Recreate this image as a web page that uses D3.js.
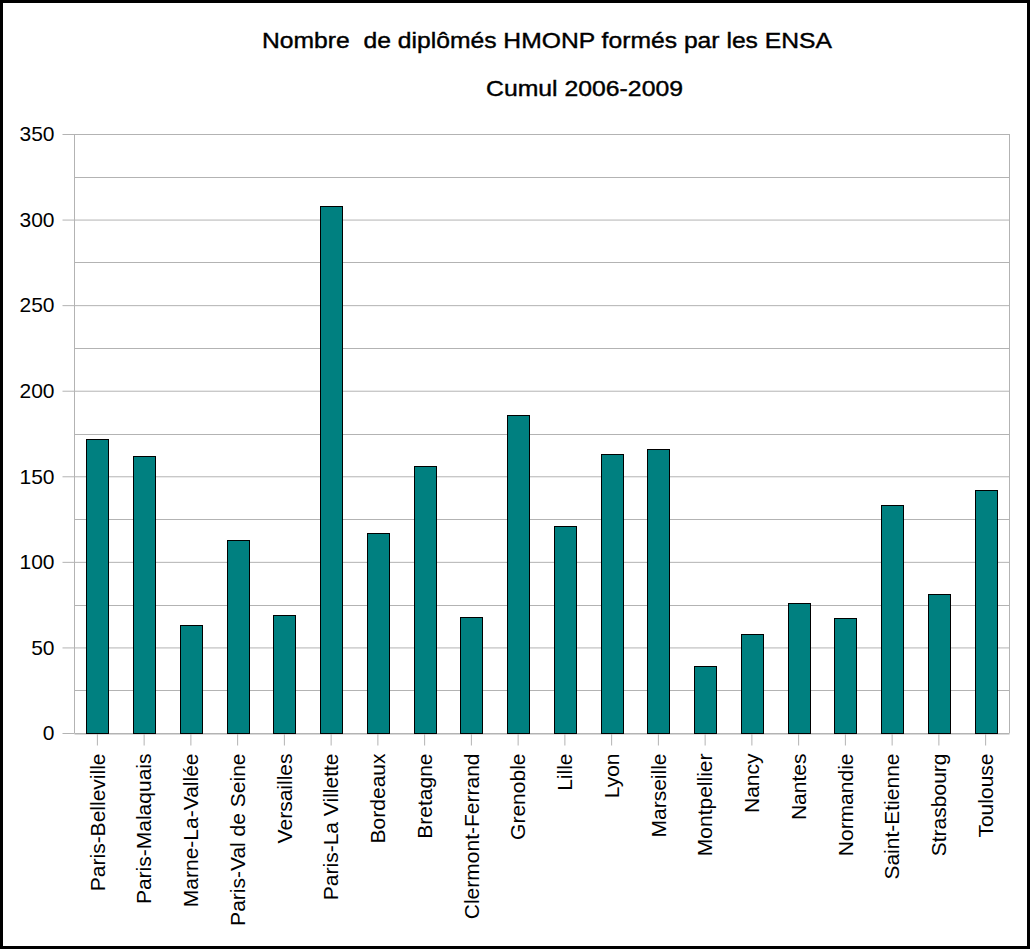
<!DOCTYPE html>
<html>
<head>
<meta charset="utf-8">
<script src="https://cdn.jsdelivr.net/npm/d3@7"></script>
<style>
  html, body { margin: 0; padding: 0; background: #fff; }
  svg { display: block; }
  text { font-family: "Liberation Sans", Arial, sans-serif; fill: #000; }
</style>
</head>
<body>
<svg id="chart" width="1033" height="951"></svg>
<script>
const categories = ["Paris-Belleville", "Paris-Malaquais", "Marne-La-Vallée", "Paris-Val de Seine", "Versailles",
  "Paris-La Villette", "Bordeaux", "Bretagne", "Clermont-Ferrand", "Grenoble", "Lille", "Lyon", "Marseille",
  "Montpellier", "Nancy", "Nantes", "Normandie", "Saint-Etienne", "Strasbourg", "Toulouse"];
const values = [172, 162, 63, 113, 69, 308, 117, 156, 68, 186, 121, 163, 166, 39, 58, 76, 67, 133, 81, 142];
const majorTicks = [0, 50, 100, 150, 200, 250, 300, 350];
const minorTicks = [25, 75, 125, 175, 225, 275, 325];
const titleText = "Nombre  de diplômés HMONP formés par les ENSA";
const subtitleText = "Cumul 2006-2009";

const svg = d3.select("#chart");
const plot = { left: 74, right: 1009, top: 134, bottom: 733 };

// outer frame
svg.append("rect").attr("x", 1.5).attr("y", 1.5).attr("width", 1027).attr("height", 946)
  .attr("fill", "#fff").attr("stroke", "#000").attr("stroke-width", 3);

const x = d3.scaleBand().domain(categories).range([plot.left, plot.right])
  .paddingInner(0.53).paddingOuter(0.265);
const y = d3.scaleLinear().domain([0, 350]).range([plot.bottom, plot.top]);

const gridColor = "#b3b3b3";
const labelFont = "21px";

// minor gridlines
svg.append("g").selectAll("line").data(minorTicks).join("line")
  .attr("x1", plot.left).attr("x2", plot.right)
  .attr("y1", d => Math.round(y(d)) + 0.5).attr("y2", d => Math.round(y(d)) + 0.5)
  .attr("stroke", gridColor).attr("stroke-width", 1);

// y axis with major gridlines
const yAxis = d3.axisLeft(y).tickValues(majorTicks).tickSize(12).tickPadding(8).tickFormat(d3.format("d"));
const gy = svg.append("g").attr("transform", `translate(${plot.left + 0.5},0)`).call(yAxis);
gy.select(".domain").remove();
gy.selectAll(".tick line").attr("stroke", gridColor);
gy.selectAll(".tick").append("line")
  .attr("x1", 0).attr("x2", plot.right - plot.left)
  .attr("stroke", gridColor);
gy.selectAll(".tick text").style("font-size", labelFont).attr("fill", "#000")
  .style("font-family", "'Liberation Sans', Arial, sans-serif");

// plot frame left/right
svg.append("line").attr("x1", plot.left + 0.5).attr("x2", plot.left + 0.5)
  .attr("y1", plot.top).attr("y2", plot.bottom).attr("stroke", gridColor);
svg.append("line").attr("x1", plot.right + 0.5).attr("x2", plot.right + 0.5)
  .attr("y1", plot.top).attr("y2", plot.bottom).attr("stroke", gridColor);

// x axis
const xAxis = d3.axisBottom(x).tickSize(12).tickPadding(8).tickSizeOuter(0);
const gx = svg.append("g").attr("transform", `translate(0,${plot.bottom + 0.5})`).call(xAxis);
gx.select(".domain").attr("stroke", gridColor);
gx.selectAll(".tick line").attr("stroke", gridColor);
gx.selectAll(".tick text")
  .style("font-size", labelFont).attr("fill", "#000")
  .style("font-family", "'Liberation Sans', Arial, sans-serif")
  .attr("transform", "rotate(-90)")
  .attr("text-anchor", "end")
  .attr("x", -20).attr("y", 0).attr("dy", "0.35em");

// bars
svg.append("g").selectAll("rect").data(categories).join("rect")
  .attr("x", d => Math.round(x(d)) + 0.5)
  .attr("y", (d, i) => Math.round(y(values[i])) + 0.5)
  .attr("width", Math.round(x.bandwidth()))
  .attr("height", (d, i) => Math.round(y(0)) - Math.round(y(values[i])))
  .attr("fill", "#008080").attr("stroke", "#000").attr("stroke-width", 1);

// titles
svg.append("text").attr("x", 547).attr("y", 48).attr("text-anchor", "middle")
  .style("font-size", "22px").attr("stroke", "#000").attr("stroke-width", 0.4)
  .attr("textLength", 570).attr("lengthAdjust", "spacingAndGlyphs")
  .style("white-space", "pre").attr("xml:space", "preserve")
  .text(titleText);
svg.append("text").attr("x", 584.5).attr("y", 96).attr("text-anchor", "middle")
  .style("font-size", "22px").attr("stroke", "#000").attr("stroke-width", 0.4)
  .attr("textLength", 197).attr("lengthAdjust", "spacingAndGlyphs")
  .text(subtitleText);
</script>
</body>
</html>
